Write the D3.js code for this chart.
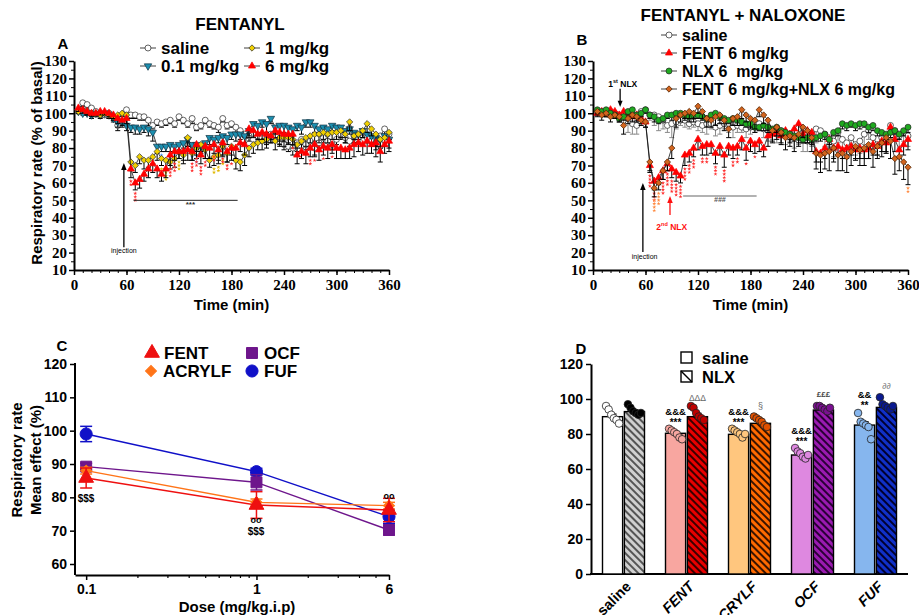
<!DOCTYPE html>
<html>
<head>
<meta charset="utf-8">
<script src="https://cdn.jsdelivr.net/npm/d3@7"></script>
<style>
  body { margin: 0; background: #fff; }
  svg { display: block; }
</style>
</head>
<body>
<svg id="fig" width="919" height="615"></svg>
<script>
// ---------- data ----------
const STEP = 5; // minutes between samples (first sample at 5 min)

const timeYTicks = [10, 20, 30, 40, 50, 60, 70, 80, 90, 100, 110, 120, 130];
const timeXTicks = [0, 60, 120, 180, 240, 300, 360];

// panel A : fentanyl
const aSaline = [101,106,105,103,101,100,99,100,98,93,97,102,
                 99,99,98,98,96,93,95,94,95,96,94,98,
                 96,94,97,92,93,96,94,93,92,97,93,94,
                 92,90,88,87,85,87,86,85,88,87,84,82,
                 81,80,83,85,82,84,80,83,86,84,82,85,
                 88,86,84,87,85,89,86,84,83,87,91,88];
const aSalineErr = [1,2,2,1,1,2,1,2,2,3,2,2, 2,2,2,2,3,2,2,2,2,2,2,2, 2,2,3,2,2,2,2,2,3,2,2,2,
                    3,3,2,3,3,2,3,3,3,2,3,3, 3,4,3,3,3,3,4,3,3,3,3,3, 3,3,3,4,3,3,3,3,4,3,3,3];
const aLow = [101,100,100,99,100,99,100,99,97,95,95,93,
              92,92,91,92,91,89,81,81,81,82,81,82,
              83,85,82,82,81,83,86,85,86,87,86,88,
              88,88,87,90,94,93,95,94,97,92,93,93,
              92,91,93,92,95,95,93,91,92,91,93,92,
              92,90,91,89,88,90,88,87,86,85,87,85];
const aLowErr = [1,1,1,2,1,1,1,2,2,3,3,3, 3,4,3,3,4,5,4,3,3,4,3,3, 3,4,3,4,3,3,4,4,3,3,4,3,
                 4,3,4,3,4,4,3,5,3,4,4,4, 4,4,3,4,3,3,4,4,3,4,3,3, 3,4,3,4,3,4,4,4,5,4,4,5];
const aMid = [101,102,101,100,100,99,100,99,98,99,100,99,
              72,70,75,73,73,75,78,74,73,72,74,78,
              76,86,77,80,82,79,73,75,76,81,77,81,
              73,72,76,80,82,83,84,85,87,84,86,86,
              86,85,82,84,86,87,88,88,89,88,89,89,
              90,88,95,87,88,90,94,91,88,85,86,89];
const aMidErr = [1,1,2,1,2,2,1,2,2,2,2,2, 5,4,4,5,4,4,5,4,5,4,5,4, 5,5,4,6,5,5,4,5,5,6,5,5,
                 5,5,6,5,5,4,5,5,4,5,4,5, 4,5,4,4,5,4,4,5,4,5,4,4, 4,5,5,4,5,4,5,4,4,5,5,4];
const aHigh = [103,102,101,100,100,101,101,100,99,97,96,97,
               68,60,62,65,68,71,68,65,68,76,78,78,
               78,79,78,82,76,81,80,82,79,83,78,80,
               80,83,82,91,90,88,89,88,87,90,89,88,
               88,88,76,78,77,80,82,79,81,80,82,80,
               80,79,80,82,83,82,84,82,83,78,82,84];
const aHighErr = [2,2,2,2,1,2,2,2,2,3,3,3, 5,4,5,4,5,5,5,4,5,6,5,4, 5,6,5,6,5,7,6,5,6,7,6,7,
                  6,5,6,5,4,3,4,5,4,4,5,4, 5,6,5,4,6,5,7,6,5,6,5,6, 6,5,6,7,5,6,7,5,8,6,5,6];
// significance marks [time, number of stars]
const aHighSig = [[65,2],[70,3],[110,3],[115,3],[135,3],[140,3],[145,3],[150,2],[160,2],[170,2],[175,2],[180,1],[250,1],[270,2],[275,1],[285,1],[295,1]];
const aMidSig = [[100,1],[105,3],[120,3],[160,2],[165,2],[170,2]];
const aLowSig = [[100,1],[115,2],[135,2],[140,3]];

// panel B : fentanyl + naloxone
const bSaline = [101,100,101,101,100,99,99,97,94,93,101,102,
                 99,99,98,96,93,94,95,96,96,94,95,94,
                 93,94,94,92,93,94,93,92,93,92,91,92,
                 92,94,91,90,89,88,90,87,88,86,87,85,
                 84,86,91,90,88,86,84,89,85,83,86,82,
                 84,88,90,86,82,86,84,93,90,87,89,87];
const bSalineErr = [2,2,3,2,3,2,6,8,6,5,3,2, 3,6,8,5,4,8,4,3,4,3,3,4, 4,6,3,5,5,3,4,6,4,3,5,4,
                    3,4,5,6,4,5,3,5,4,6,5,7, 6,5,8,4,7,5,9,6,5,7,4,6, 7,6,5,9,6,4,7,5,6,7,5,6];
const bFent = [100,101,100,102,101,99,101,100,98,99,97,95,
               70,61,63,67,71,68,66,64,76,77,80,85,
               81,82,82,77,81,76,81,80,81,85,80,84,
               82,84,80,87,88,89,87,90,88,91,94,88,
               90,89,78,77,80,85,80,81,79,80,81,79,
               80,79,80,82,81,84,83,92,85,79,82,85];
const bFentErr = [2,2,2,2,2,3,2,2,3,3,3,3, 4,5,4,5,4,5,5,4,6,5,5,6, 5,6,5,6,5,7,5,6,5,6,7,6,
                  5,6,5,6,5,4,5,4,5,4,6,5, 5,6,6,5,6,5,6,5,5,6,5,6, 6,5,6,6,5,6,5,6,7,5,6,6];
const bNlx = [102,101,102,100,99,97,98,101,102,99,100,102,
              99,98,96,97,99,99,100,100,99,98,99,99,
              98,97,99,100,98,97,96,97,96,95,94,94,
              92,92,93,92,91,92,90,89,88,87,86,85,
              86,85,86,87,88,85,89,90,94,93,94,93,
              94,94,92,93,90,89,88,89,90,88,90,92];
const bNlxErr = [2,2,2,2,2,2,2,2,2,2,2,2, 2,3,2,2,2,3,2,2,2,3,2,2, 2,2,3,2,2,3,2,2,3,2,2,3,
                 3,2,3,3,2,3,3,2,3,3,3,2, 3,3,2,3,3,3,2,3,3,3,2,3, 3,2,3,3,3,2,3,3,2,3,3,3];
const bFentNlx = [101,99,100,98,99,98,93,97,99,98,96,95,
                  72,57,60,67,72,80,97,99,100,101,100,104,
                  101,97,96,98,99,96,91,97,98,102,99,97,
                  96,102,99,96,90,92,89,86,87,86,88,92,
                  90,86,77,76,77,78,80,76,77,75,78,81,
                  79,80,82,78,81,83,86,84,74,75,72,69];
const bFentNlxErr = [2,3,2,3,2,3,5,3,2,3,3,3, 5,5,4,5,5,6,5,4,4,4,5,4, 4,5,4,5,5,6,5,4,5,5,4,5,
                     5,4,5,6,6,5,6,7,6,8,7,6, 7,8,9,10,9,11,8,9,10,9,8,7, 9,10,8,9,7,8,9,10,9,8,10,10];
const bFentSig = [[65,4],[70,3],[80,4],[85,4],[90,4],[95,4],[100,4],[105,4],[110,3],[115,3],[125,2],[130,2],[140,3],[150,4],[160,2],[165,2],[175,1],[185,1]];
const bFentNlxSig = [[70,4],[75,4],[360,2]];

// panel C : dose response
const cDoses = [0.1, 1, 6];
const cYTicks = [60, 70, 80, 90, 100, 110, 120];
const cMinor = [0.2, 0.3, 0.4, 0.5, 0.6, 0.7, 0.8, 0.9, 2, 3, 4, 5];
const cFent = [85.8, 77.7, 76.2];
const cFentErr = [3, 4, 3.5];
const cAcrylf = [88, 78.5, 77.5];
const cAcrylfErr = [1, 1, 1];
const cOcf = [89.2, 84.5, 70.2];
const cOcfErr = [1, 2.3, 1.5];
const cFuf = [99, 87.7, 74.2];
const cFufErr = [2.3, 1, 2];

// panel D : bars saline vs naloxone
const dGroups = ['saline', 'FENT', 'ACRYLF', 'OCF', 'FUF'];
const dYTicks = [0, 20, 40, 60, 80, 100, 120];
const dSaline = [89.9, 80.4, 79.8, 68, 85.1];
const dSalineErr = [1.5, 1, 1, 1, 2];
const dNlx = [92.8, 89.9, 86.1, 93.7, 95.2];
const dNlxErr = [1, 2, 1.5, 1, 1.2];
const dSalinePts = [[96,94,91,89,88,86],[83,82,81,80,78,77],[83,82,81,80,78,80],[72,70,69,67,66,68],[92,87,86,85,84,77]];
const dNlxPts = [[97,95,93,92,91,92],[96,95,92,90,89,88],[90,89,88,87,85,84],[96,96,95,94,93,95],[101,97,96,95,94,96]];

// ---------- helpers ----------
const sans = "'Liberation Sans', Arial, sans-serif";
const serif = "'Liberation Serif', 'Times New Roman', serif";
const svg = d3.select('#fig');

function txt(x, y, s, size, o = {}) {
  const t = svg.append('text')
    .attr('x', x).attr('y', y)
    .attr('font-size', size)
    .attr('font-family', o.family || sans)
    .attr('font-weight', o.weight || 'bold')
    .attr('text-anchor', o.anchor || 'middle')
    .attr('dominant-baseline', 'central')
    .attr('fill', o.fill || '#000')
    .style('white-space', 'pre');
  if (o.italic) t.attr('font-style', 'italic');
  if (o.rotate) t.attr('transform', `rotate(${o.rotate},${x},${y})`);
  t.text(s);
  return t;
}

const symTypes = {
  circle: d3.symbolCircle, tri: d3.symbolTriangle, tridown: d3.symbolTriangle,
  diamond: d3.symbolSquare, square: d3.symbolSquare
};
function marker(g, shape, x, y, size, fill, stroke, sw) {
  const rot = shape === 'tridown' ? ' rotate(180)' : shape === 'diamond' ? ' rotate(45)' : '';
  g.append('path')
    .attr('d', d3.symbol(symTypes[shape], size)())
    .attr('transform', `translate(${x},${y})` + rot)
    .attr('fill', fill).attr('stroke', stroke).attr('stroke-width', sw);
}

function styleAxis(sel, font, size) {
  sel.attr('font-family', font);
  sel.selectAll('.domain').attr('stroke-width', 2);
  sel.selectAll('.tick line').attr('stroke-width', 1.5);
  sel.selectAll('text').attr('font-family', font).attr('font-weight', 'bold')
    .attr('font-size', size).attr('fill', '#000');
}

function arrow(x, y1, y2, color, head) {
  // line from y1 to tip y2
  const dir = y2 < y1 ? 1 : -1;
  svg.append('line').attr('x1', x).attr('x2', x).attr('y1', y1).attr('y2', y2 + dir * head)
    .attr('stroke', color).attr('stroke-width', 1.3);
  svg.append('path')
    .attr('d', `M${x},${y2} L${x - head * 0.55},${y2 + dir * head * 1.4} L${x + head * 0.55},${y2 + dir * head * 1.4} Z`)
    .attr('fill', color);
}

// ---------- time course panels ----------
function timePanel(p) {
  const x = d3.scaleLinear().domain([0, 360]).range([p.left, p.right]);
  const y = d3.scaleLinear().domain([10, 130]).range([270, 61]);
  const g = svg.append('g');

  g.append('g').attr('transform', `translate(${p.left},0)`)
    .call(d3.axisLeft(y).tickValues(d3.range(15, 130, 10)).tickSize(3).tickFormat(''))
    .call(s => s.select('.domain').remove())
    .selectAll('line').attr('stroke-width', 1);
  g.append('g').attr('transform', `translate(0,270)`)
    .call(d3.axisBottom(x).tickValues(d3.range(10, 360, 10)).tickSize(3).tickFormat(''))
    .call(s => s.select('.domain').remove())
    .selectAll('line').attr('stroke-width', 1);

  const ya = g.append('g').attr('transform', `translate(${p.left},0)`)
    .call(d3.axisLeft(y).tickValues(timeYTicks).tickSize(5).tickSizeOuter(0).tickPadding(2));
  styleAxis(ya, serif, 15);
  const xa = g.append('g').attr('transform', `translate(0,270)`)
    .call(d3.axisBottom(x).tickValues(timeXTicks).tickSize(5).tickSizeOuter(0).tickPadding(4));
  styleAxis(xa, serif, 15);

  const line = d3.line().x(d => x(d.t)).y(d => y(d.v));
  const star = d3.symbol(d3.symbolStar, 5)();
  p.series.forEach(s => {
    const pts = s.vals.map((v, i) => ({ t: (i + 1) * STEP, v, e: s.err[i] }));
    const eg = g.append('g').attr('stroke', s.errColor || '#000').attr('stroke-width', 1);
    pts.forEach(d => {
      const y1 = y(d.v), y2 = y(d.v - d.e);
      eg.append('line').attr('x1', x(d.t)).attr('x2', x(d.t)).attr('y1', y1).attr('y2', y2);
      eg.append('line').attr('x1', x(d.t) - 2.5).attr('x2', x(d.t) + 2.5).attr('y1', y2).attr('y2', y2);
    });
    g.append('path').datum(pts).attr('d', line)
      .attr('fill', 'none').attr('stroke', '#111').attr('stroke-width', 0.8);
    pts.forEach(d => marker(g, s.shape, x(d.t), y(d.v), s.size, s.fill, s.stroke, 0.7));
    if (s.sig) {
      s.sig.forEach(([t, n]) => {
        const i = t / STEP - 1;
        const base = y(s.vals[i] - s.err[i]) + 3.5;
        for (let k = 0; k < n; k++) {
          g.append('path').attr('d', star)
            .attr('transform', `translate(${x(t)},${base + k * 3.4})`)
            .attr('fill', s.sigColor);
        }
      });
    }
  });

  // legend
  p.legend.forEach(l => {
    svg.append('line').attr('x1', l.x - 8).attr('x2', l.x + 8).attr('y1', l.y).attr('y2', l.y)
      .attr('stroke', '#111').attr('stroke-width', 0.8);
    marker(svg, l.s.shape, l.x, l.y, l.s.size, l.s.fill, l.s.stroke, 0.7);
    txt(l.x + 13, l.y, l.label, p.legendSize, { anchor: 'start' });
  });

  txt((p.left + p.right) / 2 + p.labelDx, 304, 'Time (min)', 15);
  return { x, y };
}

const sSalA = { vals: aSaline, err: aSalineErr, shape: 'circle', size: 28, fill: '#fff', stroke: '#222' };
const sLowA = { vals: aLow, err: aLowErr, shape: 'tridown', size: 24, fill: '#1c8fb0', stroke: '#103040', sig: aLowSig, sigColor: '#4a9bff' };
const sMidA = { vals: aMid, err: aMidErr, shape: 'diamond', size: 20, fill: '#f0d000', stroke: '#333', sig: aMidSig, sigColor: '#e0b800' };
const sHighA = { vals: aHigh, err: aHighErr, shape: 'tri', size: 22, fill: '#ff0000', stroke: '#ff0000', sig: aHighSig, sigColor: '#ff3030' };

const A = timePanel({
  left: 74, right: 389, labelDx: 0, legendSize: 17,
  series: [sSalA, sLowA, sMidA, sHighA],
  legend: [
    { s: sSalA, x: 148, y: 48, label: 'saline' },
    { s: sMidA, x: 252, y: 48, label: '1 mg/kg' },
    { s: sLowA, x: 148, y: 66, label: '0.1 mg/kg' },
    { s: sHighA, x: 252, y: 66, label: '6 mg/kg' }
  ]
});

const sSalB = { vals: bSaline, err: bSalineErr, shape: 'circle', size: 28, fill: '#fff', stroke: '#222', errColor: '#8a8a8a' };
const sFentB = { vals: bFent, err: bFentErr, shape: 'tri', size: 22, fill: '#ff0000', stroke: '#ff0000', sig: bFentSig, sigColor: '#ff3030' };
const sNlxB = { vals: bNlx, err: bNlxErr, shape: 'circle', size: 28, fill: '#1faa1f', stroke: '#222' };
const sFnB = { vals: bFentNlx, err: bFentNlxErr, shape: 'diamond', size: 20, fill: '#d2641e', stroke: '#4a2000', sig: bFentNlxSig, sigColor: '#ff8a40' };

const B = timePanel({
  left: 593, right: 908, labelDx: 0, legendSize: 16,
  series: [sSalB, sFentB, sNlxB, sFnB],
  legend: [
    { s: sSalB, x: 669, y: 35, label: 'saline' },
    { s: sFentB, x: 669, y: 53, label: 'FENT 6 mg/kg' },
    { s: sNlxB, x: 669, y: 71, label: 'NLX 6\u00a0 mg/kg' },
    { s: sFnB, x: 669, y: 89, label: 'FENT 6 mg/kg+NLX 6 mg/kg' }
  ]
});

// titles and labels, panels A/B
txt(240, 24, 'FENTANYL', 17);
txt(743, 15, 'FENTANYL + NALOXONE', 17);
txt(63, 43, 'A', 15);
txt(582, 39, 'B', 15);
txt(36, 163, 'Respiratory rate (% of basal)', 15, { rotate: -90 });

// A annotations
arrow(A.x(57), A.y(23), A.y(71.5), '#000', 5);
txt(A.x(57), A.y(21), 'injection', 7, { weight: 'normal' });
svg.append('line').attr('x1', A.x(68)).attr('x2', A.x(187)).attr('y1', A.y(50)).attr('y2', A.y(50))
  .attr('stroke', '#222').attr('stroke-width', 1);
txt(A.x(133), A.y(47.6), '***', 8, { fill: '#333' });

// B annotations
arrow(B.x(31), B.y(114), B.y(103.6), '#000', 4.5);
const t1 = txt(B.x(34), B.y(116.8), '', 8.5);
t1.append('tspan').text('1');
t1.append('tspan').attr('font-size', 5.5).attr('baseline-shift', 'super').text('st');
t1.append('tspan').text(' NLX');
arrow(B.x(57), B.y(20.3), B.y(60), '#000', 5);
txt(B.x(59), B.y(17.5), 'injection', 7, { weight: 'normal' });
arrow(B.x(88), B.y(41.6), B.y(52.5), '#ff1010', 5);
const t2 = txt(B.x(90), B.y(34.7), '', 8.5, { fill: '#ff1010' });
t2.append('tspan').text('2');
t2.append('tspan').attr('font-size', 5.5).attr('baseline-shift', 'super').text('nd');
t2.append('tspan').text(' NLX');
svg.append('line').attr('x1', B.x(103)).attr('x2', B.x(187)).attr('y1', B.y(52.5)).attr('y2', B.y(52.5))
  .attr('stroke', '#999').attr('stroke-width', 1.3);
txt(B.x(145), B.y(50.2), '###', 7, { fill: '#555', italic: true });

// ---------- panel C ----------
{
  const x = d3.scaleLog().domain([0.086, 6]).range([75, 389]);
  const y = d3.scaleLinear().domain([60, 120]).range([564, 364]);
  const g = svg.append('g');
  const ya = g.append('g').attr('transform', 'translate(75,0)')
    .call(d3.axisLeft(y).tickValues(cYTicks).tickSize(5).tickSizeOuter(0).tickPadding(3));
  ya.select('.domain').remove();
  styleAxis(ya, sans, 14);
  g.append('line').attr('x1', 75).attr('x2', 75).attr('y1', 363).attr('y2', 575)
    .attr('stroke', '#000').attr('stroke-width', 2);
  g.append('g').attr('transform', 'translate(0,575)')
    .call(d3.axisBottom(x).tickValues(cMinor).tickSize(3).tickFormat(''))
    .call(s => s.select('.domain').remove())
    .selectAll('line').attr('stroke-width', 1.2);
  const xa = g.append('g').attr('transform', 'translate(0,575)')
    .call(d3.axisBottom(x).tickValues(cDoses).tickSize(5).tickSizeOuter(0).tickPadding(4)
      .tickFormat(d3.format('~g')));
  styleAxis(xa, sans, 14);

  const series = [
    { name: 'FUF', vals: cFuf, err: cFufErr, color: '#1010c8', shape: 'circle', size: 115 },
    { name: 'OCF', vals: cOcf, err: cOcfErr, color: '#6e168c', shape: 'square', size: 120 },
    { name: 'ACRYLF', vals: cAcrylf, err: cAcrylfErr, color: '#ff7418', shape: 'diamond', size: 60 },
    { name: 'FENT', vals: cFent, err: cFentErr, color: '#ee1010', shape: 'tri', size: 95 }
  ];
  series.forEach(s => {
    const pts = cDoses.map((d, i) => ({ d, v: s.vals[i], e: s.err[i] }));
    g.append('path').datum(pts)
      .attr('d', d3.line().x(p => x(p.d)).y(p => y(p.v)))
      .attr('fill', 'none').attr('stroke', s.color).attr('stroke-width', 1.4);
    pts.forEach(p => {
      const x0 = x(p.d);
      const lo = p.v - p.e, hi = p.v + p.e;
      g.append('line').attr('x1', x0).attr('x2', x0).attr('y1', y(lo)).attr('y2', y(hi))
        .attr('stroke', s.color).attr('stroke-width', 1.5);
      [lo, hi].forEach(v => g.append('line').attr('x1', x0 - 6).attr('x2', x0 + 6)
        .attr('y1', y(v)).attr('y2', y(v)).attr('stroke', s.color).attr('stroke-width', 1.5));
      marker(g, s.shape, x0, y(p.v), s.size, s.color, s.color, 1);
    });
  });

  txt(86, 498, '$$$', 10);
  txt(256, 520, 'oo', 9);
  txt(256, 531, '$$$', 10);
  txt(389, 496, 'oo', 9);

  // legend
  const leg = [
    { s: series[3], x: 152, y: 353 }, { s: series[1], x: 252, y: 353 },
    { s: series[2], x: 151, y: 371 }, { s: series[0], x: 252, y: 371 }
  ];
  leg.forEach(l => {
    marker(svg, l.s.shape, l.x, l.y, l.s.size, l.s.color, l.s.color, 1);
    txt(l.x + 12, l.y, l.s.name, 17, { anchor: 'start' });
  });

  txt(62, 345, 'C', 15);
  txt(16, 460, 'Respiratory rate', 15, { rotate: -90 });
  txt(35, 460, 'Mean effect (%)', 15, { rotate: -90 });
  txt(237, 606, 'Dose (mg/kg.i.p)', 15);
}

// ---------- panel D ----------
{
  const x = d3.scaleBand().domain(dGroups).range([592, 907]);
  const sub = d3.scaleBand().domain(['saline', 'NLX']).range([-21, 21]).paddingInner(0.08);
  const y = d3.scaleLinear().domain([0, 120]).range([574, 364]);
  const light = ['#ffffff', '#f8a6a0', '#ffc67e', '#de88e0', '#86b6ee'];
  const dark = ['#d0d0d0', '#e80000', '#ff6a00', '#9a1ab0', '#1030c8'];
  const stripe = ['#555555', '#3a0000', '#3a1400', '#2a0036', '#000030'];
  const dotSal = ['#ffffff', '#f8a6a0', '#ffc67e', '#de88e0', '#86b6ee'];
  const dotNlx = ['#000000', '#c00000', '#e05000', '#7a1090', '#0a1a90'];

  const defs = svg.append('defs');
  dGroups.forEach((gName, i) => {
    const pat = defs.append('pattern').attr('id', 'hatch' + i)
      .attr('patternUnits', 'userSpaceOnUse').attr('width', 5).attr('height', 5)
      .attr('patternTransform', 'rotate(-45)');
    pat.append('rect').attr('width', 5).attr('height', 5).attr('fill', dark[i]);
    pat.append('rect').attr('width', 2).attr('height', 5).attr('fill', stripe[i]);
  });

  const g = svg.append('g');
  const ya = g.append('g').attr('transform', 'translate(591,0)')
    .call(d3.axisLeft(y).tickValues(dYTicks).tickSize(5).tickSizeOuter(0).tickPadding(3));
  styleAxis(ya, sans, 14);
  g.append('line').attr('x1', 590).attr('x2', 908).attr('y1', 574).attr('y2', 574)
    .attr('stroke', '#000').attr('stroke-width', 2);

  dGroups.forEach((gName, i) => {
    const cx = x(gName) + x.bandwidth() / 2;
    const bw = sub.bandwidth();
    const bars = [
      { k: 'saline', v: dSaline[i], e: dSalineErr[i], fill: light[i], pts: dSalinePts[i], dot: dotSal[i] },
      { k: 'NLX', v: dNlx[i], e: dNlxErr[i], fill: `url(#hatch${i})`, pts: dNlxPts[i], dot: dotNlx[i] }
    ];
    bars.forEach(b => {
      const bx = cx + sub(b.k);
      g.append('rect').attr('x', bx).attr('y', y(b.v)).attr('width', bw).attr('height', y(0) - y(b.v))
        .attr('fill', b.fill).attr('stroke', '#000').attr('stroke-width', 1.4);
      const mx = bx + bw / 2;
      g.append('line').attr('x1', mx).attr('x2', mx).attr('y1', y(b.v)).attr('y2', y(b.v + b.e))
        .attr('stroke', '#000').attr('stroke-width', 1.2);
      g.append('line').attr('x1', mx - 4).attr('x2', mx + 4).attr('y1', y(b.v + b.e)).attr('y2', y(b.v + b.e))
        .attr('stroke', '#000').attr('stroke-width', 1.2);
      const n = b.pts.length;
      b.pts.forEach((v, j) => {
        g.append('circle').attr('cx', mx + (j - (n - 1) / 2) * 2.6).attr('cy', y(v)).attr('r', 3.8)
          .attr('fill', b.dot).attr('stroke', '#222').attr('stroke-width', 0.8);
      });
    });
    txt(cx + 5, 584, gName, 14.5, { anchor: 'end', rotate: -45, italic: i > 0 });
  });

  // significance labels
  const left = g => x(g) + x.bandwidth() / 2 + sub('saline') + sub.bandwidth() / 2;
  const right = g => x(g) + x.bandwidth() / 2 + sub('NLX') + sub.bandwidth() / 2;
  txt(left('FENT'), 411, '&&&', 9.5); txt(left('FENT'), 422, '***', 10);
  txt(right('FENT'), 398, 'ΔΔΔ', 8.5, { fill: '#666', weight: 'normal' });
  txt(left('ACRYLF'), 411, '&&&', 9.5); txt(left('ACRYLF'), 422, '***', 10);
  txt(right('ACRYLF'), 406, '§', 9, { fill: '#666', weight: 'normal' });
  txt(left('OCF'), 430, '&&&', 9.5); txt(left('OCF'), 441, '***', 10);
  txt(right('OCF'), 394, '£££', 8, { fill: '#444' });
  txt(left('FUF'), 394, '&&', 9.5); txt(left('FUF'), 405, '**', 10);
  txt(right('FUF'), 386, '∂∂', 8.5, { fill: '#777', weight: 'normal', italic: true });

  // legend
  svg.append('rect').attr('x', 681).attr('y', 352).attr('width', 11).attr('height', 11)
    .attr('fill', '#fff').attr('stroke', '#000').attr('stroke-width', 1.4);
  txt(702, 357.5, 'saline', 16.5, { anchor: 'start' });
  svg.append('rect').attr('x', 681).attr('y', 371).attr('width', 11).attr('height', 11)
    .attr('fill', '#fff').attr('stroke', '#000').attr('stroke-width', 1.4);
  svg.append('line').attr('x1', 681).attr('y1', 371).attr('x2', 692).attr('y2', 382)
    .attr('stroke', '#000').attr('stroke-width', 1.4);
  txt(702, 376.5, 'NLX', 16.5, { anchor: 'start' });

  txt(581, 348, 'D', 15);
}
</script>
</body>
</html>
